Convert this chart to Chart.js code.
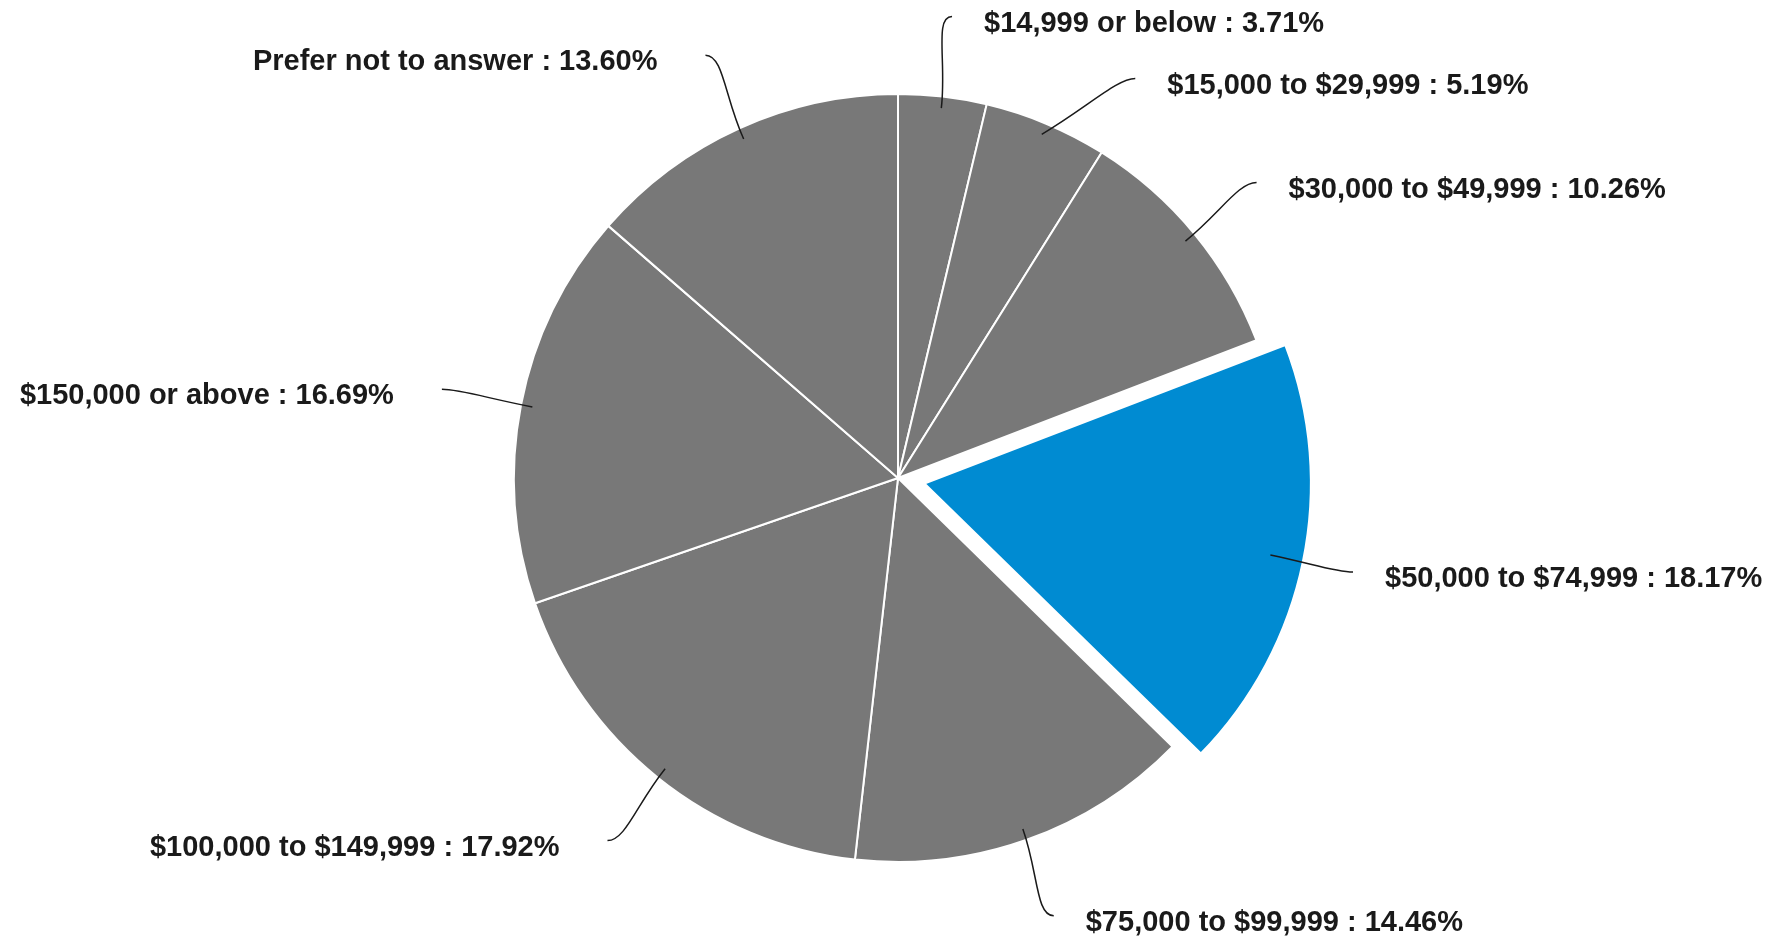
<!DOCTYPE html>
<html lang="en">
<head>
    <meta charset="UTF-8">
    <title>Household income</title>
    <script src="https://cdn.jsdelivr.net/npm/chart.js"></script>
    <style>
        html, body {
            margin: 0;
            padding: 0;
            background: #ffffff;
        }
        .chart-container {
            position: relative;
            width: 1783px;
            height: 940px;
        }
    </style>
</head>
<body>
    <div class="chart-container">
        <canvas id="incomeChart"></canvas>
    </div>

    <script>
        const categories = [
            "$14,999 or below",
            "$15,000 to $29,999",
            "$30,000 to $49,999",
            "$50,000 to $74,999",
            "$75,000 to $99,999",
            "$100,000 to $149,999",
            "$150,000 or above",
            "Prefer not to answer"
        ];
        const shares = [3.71, 5.19, 10.26, 18.17, 14.46, 17.92, 16.69, 13.60];
        const highlighted = 3;

        const grey = "#787878";
        const blue = "#008bd2";

        // labels with curved leader lines, drawn outside the pie
        const leaderLabels = {
            id: "leaderLabels",
            afterDatasetsDraw(chart) {
                const ctx = chart.ctx;
                const arcs = chart.getDatasetMeta(0).data;
                const items = arcs.map((arc, i) => {
                    const p = arc.getProps(["x", "y", "startAngle", "endAngle", "outerRadius"], true);
                    const mid = (p.startAngle + p.endAngle) / 2;
                    const off = (arc.options.offset || 0) / 4;
                    const cos = Math.cos(mid), sin = Math.sin(mid);
                    const ox = p.x + cos * off, oy = p.y + sin * off;
                    const aR = p.outerRadius * (off ? 0.92 : 0.97);
                    const R = p.outerRadius * 1.21;
                    return {
                        text: categories[i] + " : " + shares[i].toFixed(2) + "%",
                        cx: p.x, cy: p.y, R: R,
                        ax: ox + cos * aR, ay: oy + sin * aR,
                        bx: p.x + cos * R, by: p.y + sin * R,
                        side: cos >= 0 ? 1 : -1
                    };
                });

                // keep labels on one side from running into each other
                const gap = 62;
                [1, -1].forEach(side => {
                    const list = items.filter(it => it.side === side).sort((a, b) => a.by - b.by);
                    for (let k = 1; k < list.length; k++) {
                        const prev = list[k - 1], cur = list[k];
                        if (cur.by < prev.by + gap) {
                            cur.by = prev.by + gap;
                            const dy = cur.by - cur.cy;
                            if (Math.abs(dy) < cur.R) cur.bx = cur.cx + side * Math.sqrt(cur.R * cur.R - dy * dy);
                        }
                    }
                });

                ctx.save();
                ctx.strokeStyle = "#1a1a1a";
                ctx.lineWidth = 1.5;
                ctx.fillStyle = "#1a1a1a";
                ctx.font = "bold 29px 'Liberation Sans', Arial, sans-serif";
                ctx.textBaseline = "middle";
                items.forEach(it => {
                    ctx.beginPath();
                    ctx.moveTo(it.ax, it.ay);
                    ctx.bezierCurveTo(
                        it.ax + (it.bx - it.ax) * 0.5, it.ay + (it.by - it.ay) * 0.5,
                        it.bx - it.side * 18, it.by,
                        it.bx, it.by
                    );
                    ctx.stroke();
                    if (it.side > 0) {
                        ctx.textAlign = "left";
                        ctx.fillText(it.text, it.bx + 32, it.by + 7);
                    } else {
                        ctx.textAlign = "right";
                        ctx.fillText(it.text, it.bx - 48, it.by + 7);
                    }
                });
                ctx.restore();
            }
        };

        const ctxIncome = document.getElementById("incomeChart").getContext("2d");
        const incomeChart = new Chart(ctxIncome, {
            type: "pie",
            data: {
                labels: categories,
                datasets: [{
                    data: shares,
                    backgroundColor: shares.map((v, i) => i === highlighted ? blue : grey),
                    borderColor: "#ffffff",
                    borderWidth: 2,
                    offset: shares.map((v, i) => i === highlighted ? 108 : 0),
                    hoverOffset: 0
                }]
            },
            options: {
                responsive: true,
                maintainAspectRatio: false,
                animation: false,
                radius: 384,
                layout: { padding: { left: 13, top: 16, right: 0, bottom: 0 } },
                plugins: {
                    legend: { display: false },
                    tooltip: { enabled: false }
                },
                events: []
            },
            plugins: [leaderLabels]
        });
    </script>
</body>
</html>
